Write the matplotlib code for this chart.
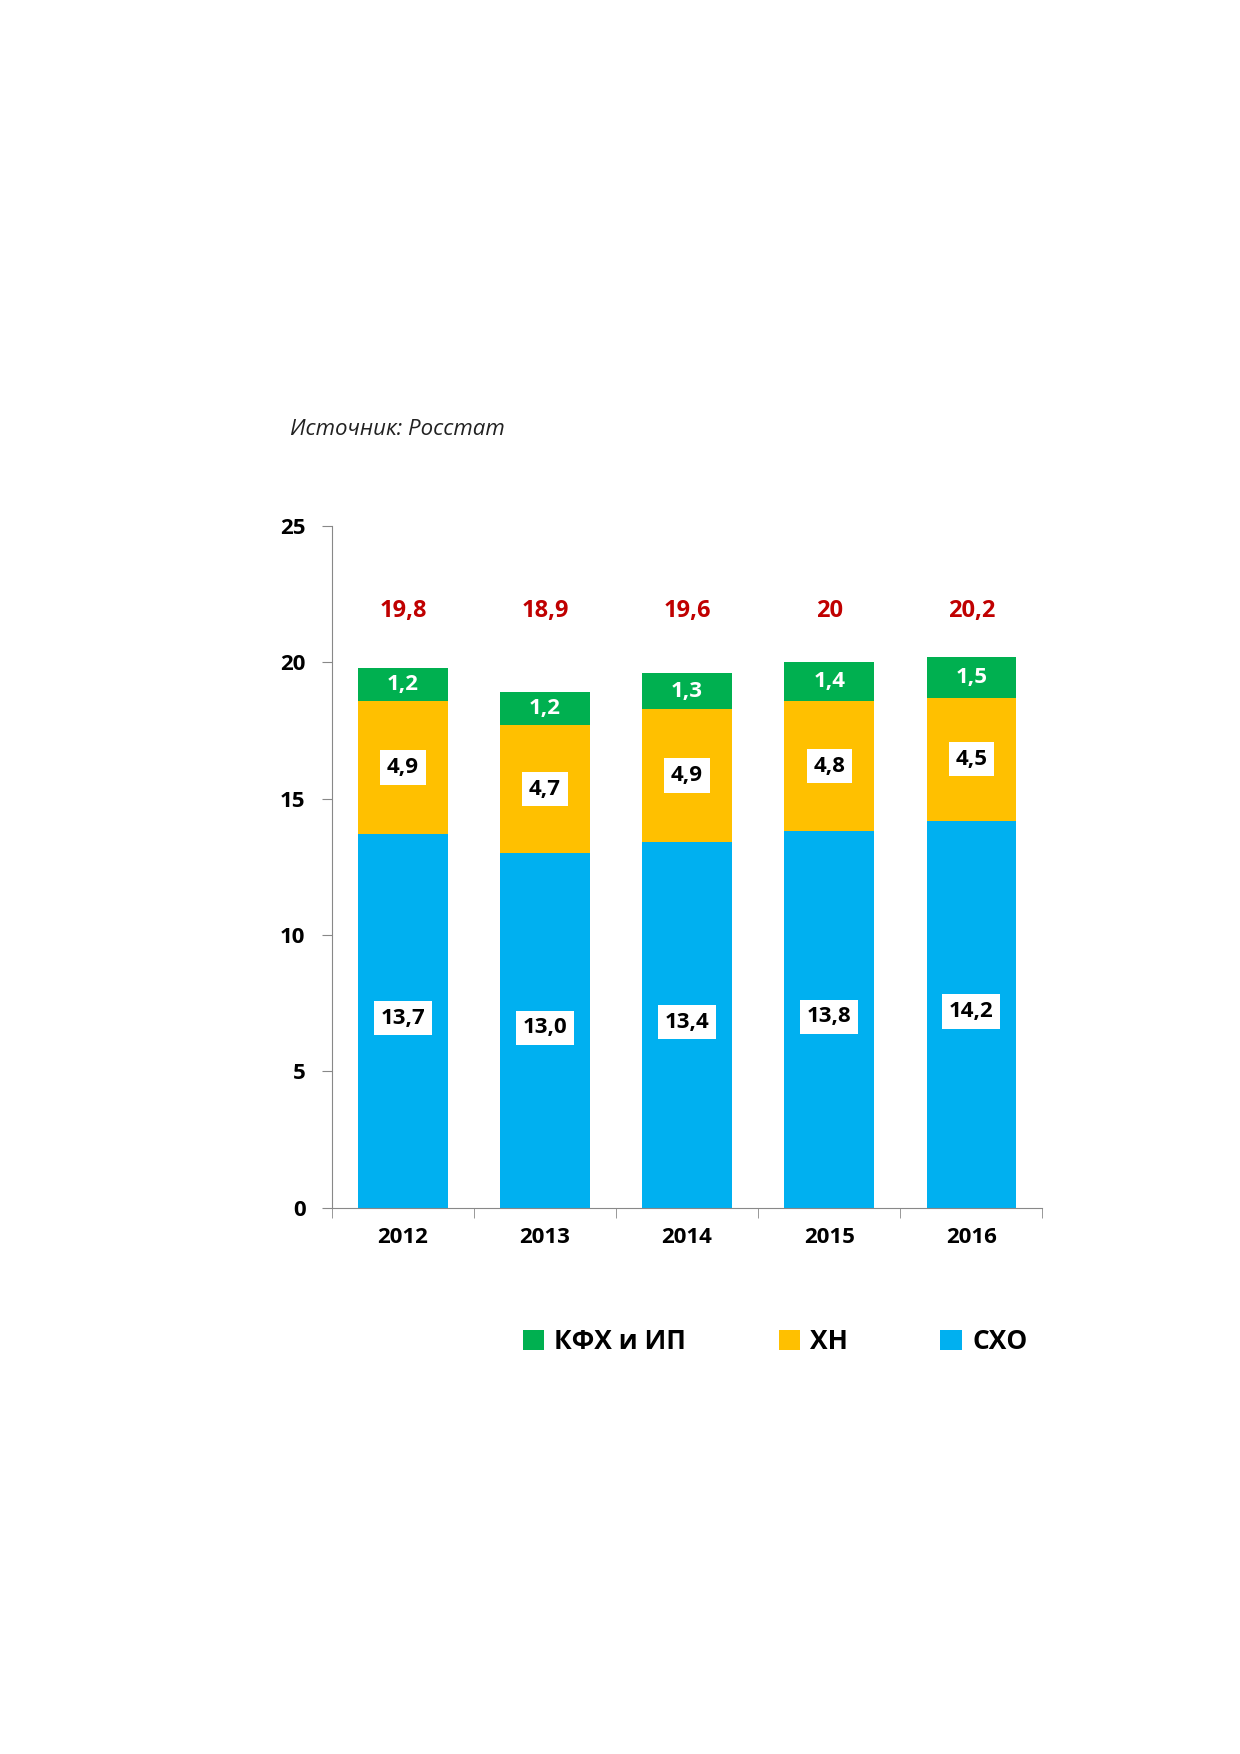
import matplotlib
matplotlib.use("Agg")
import matplotlib.pyplot as plt
import numpy as np

plt.rcParams['font.family'] = ['Open Sans', 'DejaVu Sans']

years = ['2012', '2013', '2014', '2015', '2016']
sxo = [13.7, 13.0, 13.4, 13.8, 14.2]
xn = [4.9, 4.7, 4.9, 4.8, 4.5]
kfx = [1.2, 1.2, 1.3, 1.4, 1.5]
totals = ['19,8', '18,9', '19,6', '20', '20,2']
sxo_lbl = ['13,7', '13,0', '13,4', '13,8', '14,2']
xn_lbl = ['4,9', '4,7', '4,9', '4,8', '4,5']
kfx_lbl = ['1,2', '1,2', '1,3', '1,4', '1,5']

fig = plt.figure(figsize=(12.4, 17.54), dpi=100)
ax = fig.add_axes([0.2676, 0.3115, 0.573, 0.3885])
x = np.arange(len(years))
w = 0.63
c_b, c_y, c_g = '#00B0F0', '#FFC000', '#00B050'
ax.bar(x, sxo, w, color=c_b, label='СХО')
ax.bar(x, xn, w, bottom=sxo, color=c_y, label='ХН')
b2 = np.array(sxo) + np.array(xn)
ax.bar(x, kfx, w, bottom=b2, color=c_g, label='КФХ и ИП')

box = dict(boxstyle='square,pad=0.3', fc='white', ec='none')
for i in range(len(years)):
    ax.text(x[i], sxo[i] / 2 + 0.1, sxo_lbl[i], ha='center', va='center', fontsize=16,
            fontweight='bold', bbox=box)
    ax.text(x[i], sxo[i] + xn[i] / 2, xn_lbl[i], ha='center', va='center', fontsize=16,
            fontweight='bold', bbox=box)
    ax.text(x[i], b2[i] + kfx[i] / 2, kfx_lbl[i], ha='center', va='center', fontsize=16,
            fontweight='bold', color='white')
    ax.text(x[i], 21.9, totals[i], ha='center', va='center', fontsize=17,
            fontweight='bold', color='#C00000')

ax.set_xlim(-0.5, 4.5)
ax.set_ylim(0, 25)
ax.set_yticks([0, 5, 10, 15, 20, 25])
ax.set_xticks(x)
ax.set_xticklabels(years, fontsize=16, fontweight='bold')
ax.set_xticks(np.arange(-0.5, 5, 1), minor=True)
ax.tick_params(axis='x', which='major', length=0, pad=14)
ax.tick_params(axis='x', which='minor', length=7, color='#888888')
ax.tick_params(axis='y', length=7, color='#888888', labelsize=16, pad=12)
for t in ax.get_yticklabels():
    t.set_fontweight('bold')
for s in ['top', 'right']:
    ax.spines[s].set_visible(False)
for s in ['left', 'bottom']:
    ax.spines[s].set_color('#888888')

h, l = ax.get_legend_handles_labels()
fig.legend(h[::-1], l[::-1], loc='center', bbox_to_anchor=(0.625, 0.235), ncol=3,
           frameon=False, prop={'size': 19, 'weight': 'bold'}, handlelength=0.8,
           handleheight=0.8, handletextpad=0.4, columnspacing=3.5)

fig.text(0.234, 0.752, 'Источник: Росстат', fontsize=16, style='italic', color='#222222')
fig.savefig('out.png', dpi=100)
